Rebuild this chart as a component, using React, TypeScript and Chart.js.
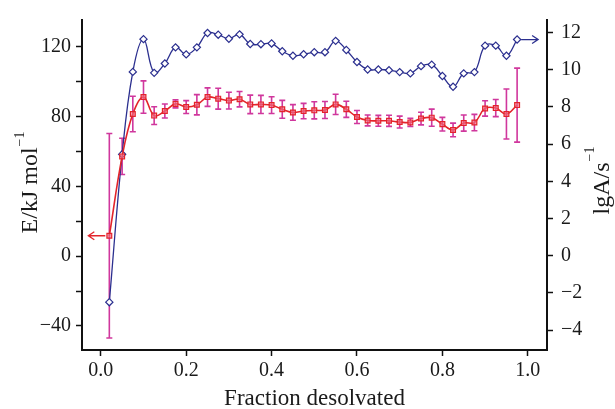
import React, { useEffect, useRef } from "react";
import { Chart, registerables } from "chart.js";
Chart.register(...registerables);

const fraction = [0.02, 0.05, 0.075, 0.1, 0.125, 0.15, 0.175, 0.2, 0.225, 0.25, 0.275, 0.3, 0.325, 0.35, 0.375, 0.4, 0.425, 0.45, 0.475, 0.5, 0.525, 0.55, 0.575, 0.6, 0.625, 0.65, 0.675, 0.7, 0.725, 0.75, 0.775, 0.8, 0.825, 0.85, 0.875, 0.9, 0.925, 0.95, 0.975];
const lgA = [-2.5, 5.45, 9.88, 11.64, 9.83, 10.33, 11.2, 10.82, 11.2, 11.97, 11.88, 11.66, 11.9, 11.38, 11.37, 11.41, 10.99, 10.75, 10.83, 10.94, 10.94, 11.55, 11.06, 10.41, 10.01, 10.01, 9.97, 9.87, 9.8, 10.19, 10.27, 9.66, 9.08, 9.8, 9.87, 11.29, 11.29, 10.75, 11.62];
const energy = [11.7, 57.2, 81.5, 91.2, 80.6, 83.2, 87.3, 85.5, 86.8, 91.2, 90.3, 89.2, 90.0, 87.0, 87.0, 86.6, 84.2, 82.4, 83.2, 83.6, 83.8, 87.0, 84.2, 79.8, 77.8, 77.6, 77.6, 76.9, 76.7, 78.9, 79.4, 75.7, 72.4, 76.3, 76.6, 84.7, 84.9, 81.5, 86.6];
const energyErr = [58.6, 10.4, 10.2, 9.3, 5.1, 4.0, 2.3, 3.7, 5.8, 5.3, 6.0, 4.8, 4.4, 5.3, 5.2, 4.8, 5.1, 4.5, 4.4, 4.9, 4.9, 5.8, 4.6, 3.7, 3.1, 3.1, 3.2, 3.4, 2.4, 3.6, 4.9, 3.9, 3.9, 4.6, 4.7, 4.4, 4.9, 14.3, 21.2];

const xTicks = [0, 0.2, 0.4, 0.6, 0.8, 1.0];
const leftTicks = [-40, -20, 0, 20, 40, 60, 80, 100, 120];
const leftLabeled = [-40, 0, 40, 80, 120];
const rightTicks = [-4, -2, 0, 2, 4, 6, 8, 10, 12];

const xTitle = "Fraction desolvated";
const leftTitle = "E/kJ mol";
const rightTitle = "lgA/s";
const unitSup = "\u22121";

const FONT = "'Liberation Serif', 'Times New Roman', serif";
const RED = "#e3242b";
const BLUE = "#2b2f8f";
const MAGENTA = "rgba(200,20,140,0.85)";
const AXIS = "#111";

const fmtNum = (v: number) => (v < 0 ? "\u2212" + Math.abs(v) : String(v));

function drawRotTitle(ctx: CanvasRenderingContext2D, main: string, sup: string, bx: number, cy: number, size: number, supSize: number, raise: number) {
  ctx.save();
  ctx.translate(bx, cy);
  ctx.rotate(-Math.PI / 2);
  ctx.fillStyle = "#1a1a1a";
  ctx.textBaseline = "alphabetic";
  ctx.textAlign = "left";
  ctx.font = `${size}px ${FONT}`;
  const wm = ctx.measureText(main).width;
  ctx.font = `${supSize}px ${FONT}`;
  const ws = ctx.measureText(sup).width;
  const start = -(wm + ws) / 2;
  ctx.font = `${size}px ${FONT}`;
  ctx.fillText(main, start, 0);
  ctx.font = `${supSize}px ${FONT}`;
  ctx.fillText(sup, start + wm + 1, -raise);
  ctx.restore();
}

const decorPlugin = {
  id: "decor",
  beforeDatasetsDraw(chart: any) {
    const ctx = chart.ctx as CanvasRenderingContext2D;
    const xs = chart.scales.x;
    const ys = chart.scales.y;
    ctx.save();
    ctx.strokeStyle = MAGENTA;
    ctx.lineWidth = 1.6;
    for (let i = 0; i < fraction.length; i++) {
      const px = xs.getPixelForValue(fraction[i]);
      const top = ys.getPixelForValue(energy[i] + energyErr[i]);
      const bot = ys.getPixelForValue(energy[i] - energyErr[i]);
      ctx.beginPath();
      ctx.moveTo(px, top);
      ctx.lineTo(px, bot);
      ctx.moveTo(px - 3, top);
      ctx.lineTo(px + 3, top);
      ctx.moveTo(px - 3, bot);
      ctx.lineTo(px + 3, bot);
      ctx.stroke();
    }
    ctx.restore();
  },
  afterDatasetsDraw(chart: any) {
    const ctx = chart.ctx as CanvasRenderingContext2D;
    const xs = chart.scales.x;
    const ys = chart.scales.y;
    const y2 = chart.scales.y2;
    ctx.save();
    ctx.lineWidth = 1.3;
    // red arrow pointing to left axis
    const rx = xs.getPixelForValue(fraction[0]);
    const ry = ys.getPixelForValue(energy[0]);
    ctx.strokeStyle = RED;
    ctx.beginPath();
    ctx.moveTo(rx - 4, ry);
    ctx.lineTo(rx - 21, ry);
    ctx.moveTo(rx - 15, ry - 4);
    ctx.lineTo(rx - 21, ry);
    ctx.lineTo(rx - 15, ry + 4);
    ctx.stroke();
    // blue arrow pointing to right axis
    const last = fraction.length - 1;
    const bx = xs.getPixelForValue(fraction[last]);
    const by = y2.getPixelForValue(lgA[last]);
    ctx.strokeStyle = BLUE;
    ctx.beginPath();
    ctx.moveTo(bx + 4, by);
    ctx.lineTo(bx + 21, by);
    ctx.moveTo(bx + 15, by - 4);
    ctx.lineTo(bx + 21, by);
    ctx.lineTo(bx + 15, by + 4);
    ctx.stroke();
    ctx.restore();
  },
  afterDraw(chart: any) {
    const ctx = chart.ctx as CanvasRenderingContext2D;
    const area = chart.chartArea;
    ctx.save();
    ctx.fillStyle = "#1a1a1a";
    ctx.font = `23px ${FONT}`;
    ctx.textAlign = "center";
    ctx.textBaseline = "alphabetic";
    ctx.fillText(xTitle, (area.left + area.right) / 2 - 0, 405);
    ctx.restore();
    drawRotTitle(ctx, leftTitle, unitSup, 37, 183, 24, 14, 13);
    drawRotTitle(ctx, rightTitle, unitSup, 609, 181, 24, 14, 15);
  },
};

export default function App() {
  const ref = useRef<HTMLCanvasElement | null>(null);
  useEffect(() => {
    if (!ref.current) return;
    const gridCommon = {
      display: true,
      drawOnChartArea: false,
      drawTicks: true,
      tickLength: 6,
      tickWidth: 1.5,
      tickColor: AXIS,
    };
    const border = { display: true, color: AXIS, width: 2 };
    const tickFont = { family: FONT, size: 20 };
    const chart = new Chart(ref.current, {
      type: "line",
      data: {
        datasets: [
          {
            label: "E",
            data: fraction.map((x, i) => ({ x, y: energy[i] })),
            yAxisID: "y",
            borderColor: RED,
            borderWidth: 1.6,
            tension: 0.4,
            pointStyle: "rect",
            pointRadius: 3.4,
            pointBackgroundColor: "rgba(240,110,140,0.65)",
            pointBorderColor: RED,
            pointBorderWidth: 1.2,
          },
          {
            label: "lgA",
            data: fraction.map((x, i) => ({ x, y: lgA[i] })),
            yAxisID: "y2",
            borderColor: BLUE,
            borderWidth: 1.3,
            tension: 0.4,
            pointStyle: "rectRot",
            pointRadius: 3.6,
            pointBackgroundColor: "#ffffff",
            pointBorderColor: BLUE,
            pointBorderWidth: 1.2,
          },
        ] as any,
      },
      options: {
        animation: false,
        responsive: false,
        devicePixelRatio: 1,
        layout: { padding: { top: 13, left: 0, right: 0, bottom: 0 } },
        plugins: { legend: { display: false }, tooltip: { enabled: false } },
        scales: {
          x: {
            type: "linear",
            min: -0.044,
            max: 1.045,
            afterBuildTicks: (s: any) => {
              s.ticks = xTicks.map((v) => ({ value: v }));
            },
            afterFit: (s: any) => {
              s.height = 59;
            },
            grid: gridCommon,
            border,
            ticks: {
              font: tickFont,
              color: "#1a1a1a",
              padding: 3,
              maxRotation: 0,
              autoSkip: false,
              callback: (v: any) => Number(v).toFixed(1),
            },
          },
          y: {
            type: "linear",
            position: "left",
            min: -53.8,
            max: 135.4,
            afterBuildTicks: (s: any) => {
              s.ticks = leftTicks.map((v) => ({ value: v }));
            },
            afterFit: (s: any) => {
              s.width = 82;
            },
            grid: gridCommon,
            border,
            ticks: {
              font: tickFont,
              color: "#1a1a1a",
              padding: 5,
              autoSkip: false,
              callback: (v: any) => (leftLabeled.includes(Number(v)) ? fmtNum(Number(v)) : ""),
            },
          },
          y2: {
            type: "linear",
            position: "right",
            min: -5.07,
            max: 12.67,
            afterBuildTicks: (s: any) => {
              s.ticks = rightTicks.map((v) => ({ value: v }));
            },
            afterFit: (s: any) => {
              s.width = 68;
            },
            grid: gridCommon,
            border,
            ticks: {
              font: tickFont,
              color: "#1a1a1a",
              padding: 8,
              autoSkip: false,
              callback: (v: any) => fmtNum(Number(v)),
            },
          },
        },
      } as any,
      plugins: [decorPlugin],
    });
    return () => chart.destroy();
  }, []);
  return (
    <div style={{ position: "fixed", left: 0, top: 0, width: 615, height: 409, background: "#fff" }}>
      <canvas ref={ref} width={615} height={409} style={{ width: 615, height: 409, display: "block" }} />
    </div>
  );
}
